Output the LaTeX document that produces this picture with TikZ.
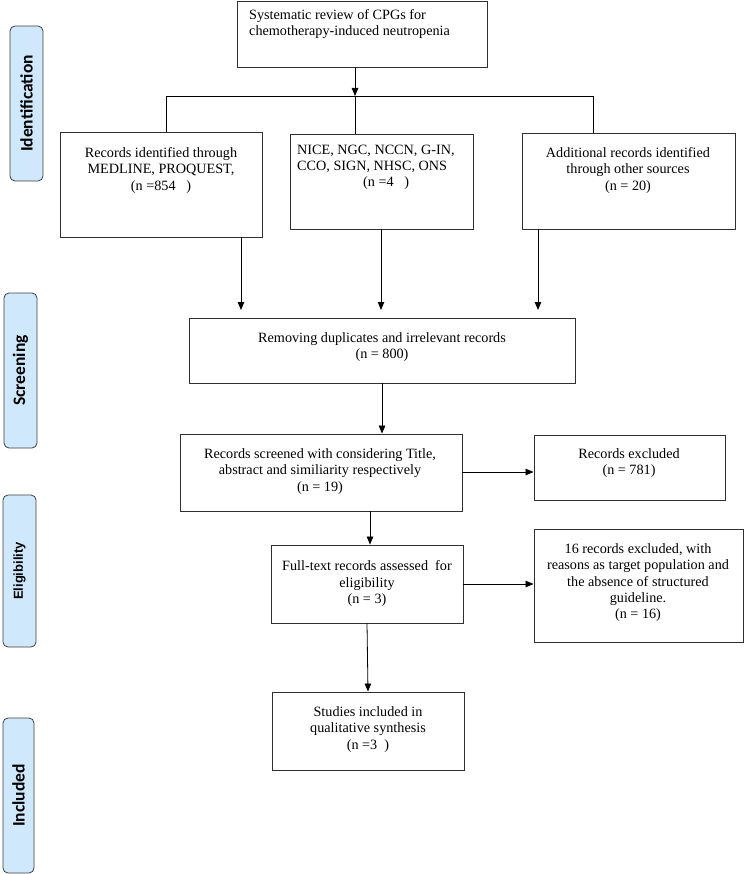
\documentclass[tikz,border=0pt]{standalone}
\usepackage{fontspec}
\setmainfont{Liberation Serif}
\newfontfamily\sidefont{Carlito}
\newfontfamily\elifont{Liberation Sans}
\usetikzlibrary{arrows.meta}
\definecolor{sideblue}{HTML}{CFE8FC}
\definecolor{boxline}{HTML}{303030}
\newcommand\mkbox[6][box]{\node[#1,minimum width={#4-#2},minimum height={#5-#3}] (#6) at ({(#2+#4)/2},{(#3+#5)/2}) {};}
\begin{document}
\begin{tikzpicture}[x=1pt,y=-1pt,
  box/.style={draw=boxline, line width=0.9pt, inner sep=0pt, rectangle},
  sidebox/.style={draw=black!75, fill=sideblue, rounded corners=5pt, line width=0.8pt, inner sep=0pt, rectangle},
  txt/.style={align=center, font=\fontsize{14.2}{16.3}\selectfont, inner sep=0pt, anchor=north},
  sidetxt/.style={rotate=90, font=\sidefont\bfseries\fontsize{17.5}{19}\selectfont, inner sep=0pt},
  arr/.style={-{Triangle[length=8pt,width=6.5pt]}, line width=0.8pt},
  ln/.style={line width=0.8pt}]
\useasboundingbox (0,0) rectangle (745,874);
% side labels
\mkbox[sidebox]{10}{26}{43}{181}{sI}
\node[sidetxt] (tI) at (sI.center) {Identification};
\mkbox[sidebox]{4}{293}{37}{448}{sS}
\node[sidetxt] (tS) at (sS.center) {Screening};
\mkbox[sidebox]{3}{495}{36}{647}{sE}
\node[sidetxt, font=\elifont\bfseries\fontsize{13}{16}\selectfont] (tE) at (sE.center) {Eligibility};
\mkbox[sidebox]{3}{718}{34}{873}{sN}
\node[sidetxt] (tN) at (sN.center) {Included};
% boxes
\mkbox{237}{1}{487}{67}{top}
\node[txt, anchor=north west, align=left] (ttop) at (249,9) {Systematic review of CPGs for\\chemotherapy-induced neutropenia};
\mkbox{60}{132}{262}{237}{src1}
\node[txt] (tsrc1) at (161,147.5) {Records identified through\\MEDLINE, PROQUEST,\\(n =854\ \ \ )};
\mkbox{290}{134}{473}{229}{src2}
\node[txt, anchor=north west, align=left] (tsrc2) at (297,144.5) {NICE, NGC, NCCN, G-IN,\\CCO, SIGN, NHSC, ONS\\\hspace*{66pt}(n =4\ \ \ )};
\mkbox{522}{133}{735}{229}{src3}
\node[txt] (tsrc3) at (628,147.5) {Additional records identified\\through other sources\\(n = 20)};
\mkbox{189}{318}{575}{383}{rem}
\node[txt] (trem) at (382,332.5) {Removing duplicates and irrelevant records\\(n = 800)};
\mkbox{180}{434}{462}{511}{scr}
\node[txt] (tscr) at (320,448.5) {Records screened with considering Title,\\abstract and similiarity respectively\\(n = 19)};
\mkbox{534}{435}{725}{500}{exc}
\node[txt] (texc) at (629,448.5) {Records excluded\\(n = 781)};
\mkbox{271}{545}{463}{623}{full}
\node[txt] (tfull) at (367,560.5) {Full-text records assessed\ \ for\\eligibility\\(n = 3)};
\mkbox{534}{529}{743}{642}{exc2}
\node[txt] (texc2) at (638,543.5) {16 records excluded, with\\reasons as target population and\\the absence of structured\\guideline.\\(n = 16)};
\mkbox{272}{692}{464}{770}{stud}
\node[txt] (tstud) at (368,706.5) {Studies included in\\qualitative synthesis\\(n =3\ \ )};
% junction coordinates
\coordinate (jl) at (166,96);
\coordinate (jm) at (355,96);
\coordinate (jr) at (593,96);
\coordinate (e1) at (241,310);
\coordinate (e2) at (381,310);
\coordinate (e3) at (538,310);
\coordinate (c1) at (382,0);
\coordinate (c2) at (370,0);
\coordinate (c3) at (0,472);
% connectors
\draw[arr] (top.south -| jm) -- (jm);
\draw[ln] (jl) -- (jr);
\draw[ln] (jl) -- (jl |- src1.north);
\draw[ln] (jm) -- (jm |- src2.north);
\draw[ln] (jr) -- (jr |- src3.north);
\draw[arr] (src1.south -| e1) -- (e1);
\draw[arr] (src2.south -| e2) -- (e2);
\draw[arr] (src3.south -| e3) -- (e3);
\draw[arr] (rem.south -| c1) -- (scr.north -| c1);
\draw[arr] (scr.east |- c3) -- (exc.west |- c3);
\draw[arr] (scr.south -| c2) -- (full.north -| c2);
\draw[arr] (full.east) -- (full.east -| exc2.west);
\draw[arr] (full.south) -- (stud.north);
\end{tikzpicture}
\end{document}
